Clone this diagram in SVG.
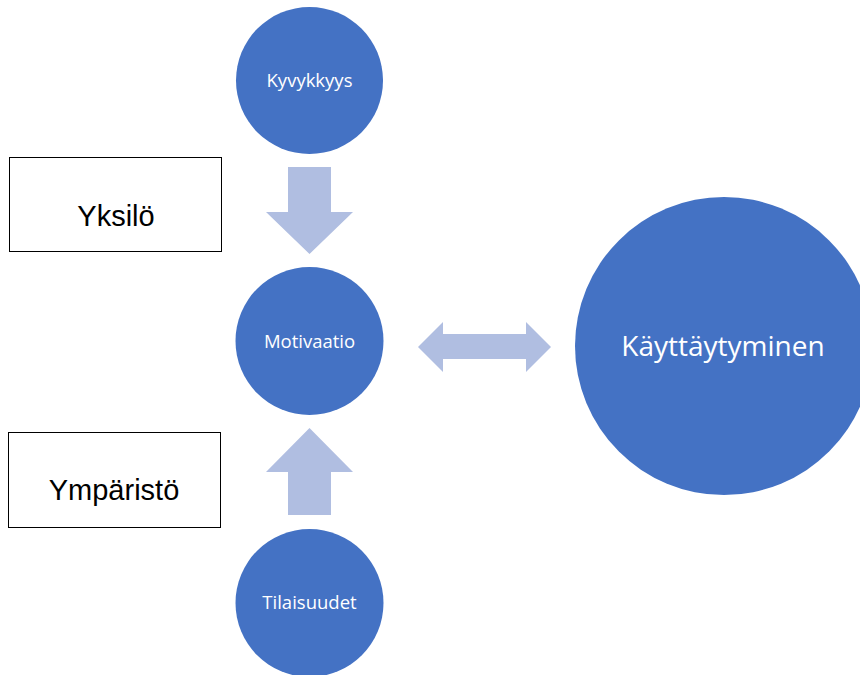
<svg xmlns="http://www.w3.org/2000/svg" width="860" height="675" viewBox="0 0 860 675">
  <style>
    .circle { fill: #4472C4; }
    .label { fill: #FFFFFF; font-family: "Open Sans", "Noto Sans", sans-serif; text-anchor: middle; }
    .small { font-size: 18.5px; }
    .box { fill: #FFFFFF; stroke: #000000; stroke-width: 1; }
    .boxlabel { fill: #000000; font-family: "Liberation Sans", Arial, sans-serif; font-size: 29px; text-anchor: middle; }
    .arrow { fill: #B0BEE1; }
  </style>
  <rect width="860" height="675" fill="#FFFFFF"/>

  <!-- block arrows between the circles -->
  <g id="connectors">
    <polygon class="arrow" points="288,167 331,167 331,212 353,212 309.5,254 266,212 288,212"/>
    <polygon class="arrow" points="309.5,428 353,472 331,472 331,515 288,515 288,472 266,472"/>
    <polygon class="arrow" points="418,347 443,322 443,334 526,334 526,322 551,347 526,372 526,359 443,359 443,372"/>
  </g>

  <g id="yksilo">
    <rect class="box" x="9.5" y="157.5" width="212" height="94"/>
    <text class="boxlabel" x="116" y="226">Yksilö</text>
  </g>

  <g id="ymparisto">
    <rect class="box" x="8.5" y="432.5" width="212" height="95"/>
    <text class="boxlabel" x="114" y="500">Ympäristö</text>
  </g>

  <g id="kyvykkyys">
    <circle class="circle" cx="309.5" cy="80.5" r="73.5"/>
    <text class="label small" x="309.5" y="87">Kyvykkyys</text>
  </g>

  <g id="motivaatio">
    <circle class="circle" cx="309.5" cy="341" r="74"/>
    <text class="label small" x="309.5" y="348">Motivaatio</text>
  </g>

  <g id="tilaisuudet">
    <circle class="circle" cx="309.5" cy="603" r="74"/>
    <text class="label small" x="309.5" y="609">Tilaisuudet</text>
  </g>

  <g id="kayttaytyminen">
    <circle class="circle" cx="724" cy="346" r="149"/>
    <text class="label" x="723" y="356" font-size="28">Käyttäytyminen</text>
  </g>
</svg>
